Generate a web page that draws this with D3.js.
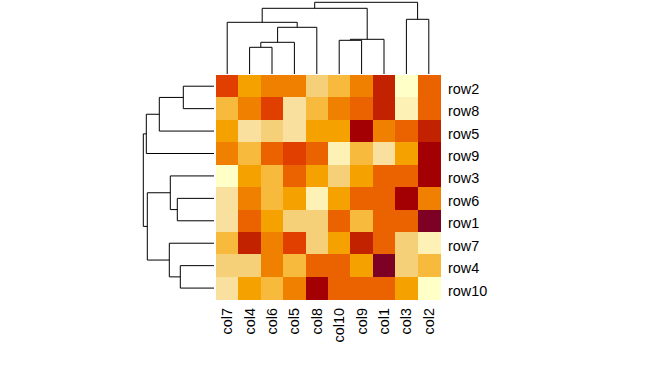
<!DOCTYPE html>
<html><head><meta charset="utf-8">
<script src="https://cdn.jsdelivr.net/npm/d3@7"></script>
<style>html,body{margin:0;padding:0;background:#fff;}</style>
</head><body>
<script>
// Columns and rows in displayed (clustered) order
const colLabels = ["col7","col4","col6","col5","col8","col10","col9","col1","col3","col2"];
const rowLabels = ["row2","row8","row5","row9","row3","row6","row1","row7","row4","row10"];
// Colour level (1 = lightest ... 12 = darkest), read per cell
const row2  = [9,6,7,7,4,5,7,10,1,8];
const row8  = [5,7,9,3,5,7,8,10,2,8];
const row5  = [6,3,4,3,6,6,11,7,8,10];
const row9  = [7,5,8,9,8,2,5,3,6,11];
const row3  = [1,6,5,8,6,4,6,8,8,11];
const row6  = [3,7,5,6,2,6,8,8,11,7];
const row1  = [3,8,6,4,4,8,5,8,8,12];
const row7  = [5,10,7,9,4,6,10,8,4,2];
const row4  = [4,4,7,5,8,8,6,12,4,5];
const row10 = [3,6,5,7,11,8,8,8,6,1];
const values = [row2,row8,row5,row9,row3,row6,row1,row7,row4,row10];
const palette = ["#FFFFC8","#FEF1B5","#F9E09F","#F6D078","#F7BA3D","#F5A200",
                 "#F08100","#EB6300","#E03F00","#C32200","#A30004","#7D0025"];
// Dendrograms (merge heights)
const colTree = {h:7.17, c:[
  {h:6.57, c:[
    {h:5.17, c:["col7", {h:4.67, c:[{h:3.17, c:[{h:2.67, c:["col4","col6"]}, "col5"]}, "col8"]}]},
    {h:3.47, c:[{h:3.37, c:["col10","col9"]}, "col1"]}
  ]},
  {h:5.47, c:["col3","col2"]}
]};
const rowTree = {h:7.07, c:[
  {h:6.77, c:[{h:5.47, c:[{h:3.07, c:["row2","row8"]}, "row5"]}, "row9"]},
  {h:6.67, c:[
    {h:4.37, c:["row3", {h:3.67, c:["row6","row1"]}]},
    {h:4.47, c:["row7", {h:3.37, c:["row4","row10"]}]}
  ]}
]};

const W = 661, H = 380;
const gx0 = 216, gx1 = 440, gy0 = 75, gy1 = 299.3;
const svg = d3.select("body").append("svg").attr("width", W).attr("height", H)
  .style("background", "#fff");

const x = d3.scaleBand().domain(colLabels).range([gx0, gx1]);
const y = d3.scaleBand().domain(rowLabels).range([gy0, gy1]);
const color = d3.scaleOrdinal().domain(d3.range(1, 13)).range(palette);

// cells
const cells = [];
values.forEach((r, i) => r.forEach((v, j) => cells.push({row: rowLabels[i], col: colLabels[j], v})));
svg.append("g").attr("shape-rendering", "crispEdges").selectAll("rect").data(cells).join("rect")
  .attr("x", d => x(d.col)).attr("y", d => y(d.row))
  .attr("width", x.bandwidth() + 0.5).attr("height", y.bandwidth() + 0.5)
  .attr("fill", d => color(d.v));

// labels
const font = "Liberation Sans, Arial, sans-serif";
svg.append("g").selectAll("text").data(rowLabels).join("text")
  .attr("x", 448).attr("y", d => y(d) + y.bandwidth() / 2 + 7.5)
  .attr("font-family", font).attr("font-size", 14.4).attr("fill", "#000")
  .text(d => d);
svg.append("g").selectAll("text").data(colLabels).join("text")
  .attr("transform", d => `translate(${x(d) + x.bandwidth() / 2 + 5},308) rotate(-90)`)
  .attr("text-anchor", "end")
  .attr("font-family", font).attr("font-size", 14.4).attr("fill", "#000")
  .text(d => d);

// column dendrogram
const hy = d3.scaleLinear().domain([0, 7.17]).range([74, 2.3]);
const colPath = d3.path();
function layCol(n) {
  if (typeof n === "string") return {p: x(n) + x.bandwidth() / 2, h: 0};
  const a = layCol(n.c[0]), b = layCol(n.c[1]);
  colPath.moveTo(a.p, hy(a.h)); colPath.lineTo(a.p, hy(n.h));
  colPath.lineTo(b.p, hy(n.h)); colPath.lineTo(b.p, hy(b.h));
  return {p: (a.p + b.p) / 2, h: n.h};
}
layCol(colTree);
svg.append("path").attr("d", colPath.toString()).attr("fill", "none")
  .attr("stroke", "#000").attr("stroke-width", 1);

// row dendrogram
const hx = d3.scaleLinear().domain([0, 7.07]).range([214, 143.3]);
const rowPath = d3.path();
function layRow(n) {
  if (typeof n === "string") return {p: y(n) + y.bandwidth() / 2, h: 0};
  const a = layRow(n.c[0]), b = layRow(n.c[1]);
  rowPath.moveTo(hx(a.h), a.p); rowPath.lineTo(hx(n.h), a.p);
  rowPath.lineTo(hx(n.h), b.p); rowPath.lineTo(hx(b.h), b.p);
  return {p: (a.p + b.p) / 2, h: n.h};
}
layRow(rowTree);
svg.append("path").attr("d", rowPath.toString()).attr("fill", "none")
  .attr("stroke", "#000").attr("stroke-width", 1);
</script>
</body></html>
